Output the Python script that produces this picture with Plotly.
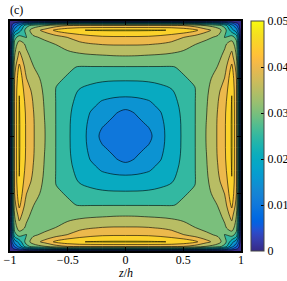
import numpy as np
import plotly.graph_objects as go

# quadrant coordinates (distance from duct centre, in units of h)
s = [0.0, 0.1, 0.2, 0.3, 0.4, 0.5, 0.6, 0.7, 0.8, 0.86, 0.92, 0.96, 0.98, 1.0]

# values for one quadrant (rows: y/h, cols: z/h)
q_row00 = [0.0125, 0.0128, 0.0135, 0.0185, 0.0222, 0.0257, 0.0298, 0.0352, 0.0405, 0.0445, 0.0505, 0.0410, 0.0255, 0.0]
q_row01 = [0.0128, 0.0136, 0.0155, 0.0188, 0.0224, 0.0257, 0.0298, 0.0351, 0.0405, 0.0445, 0.0505, 0.0410, 0.0255, 0.0]
q_row02 = [0.0135, 0.0155, 0.0185, 0.0197, 0.0228, 0.0259, 0.0298, 0.0348, 0.0403, 0.0443, 0.0504, 0.0410, 0.0255, 0.0]
q_row03 = [0.0185, 0.0188, 0.0197, 0.0215, 0.0236, 0.0264, 0.0298, 0.0345, 0.0398, 0.0435, 0.0502, 0.0410, 0.0255, 0.0]
q_row04 = [0.0222, 0.0224, 0.0228, 0.0236, 0.0248, 0.0272, 0.0298, 0.0340, 0.0390, 0.0420, 0.0498, 0.0408, 0.0255, 0.0]
q_row05 = [0.0257, 0.0257, 0.0259, 0.0264, 0.0272, 0.0297, 0.0305, 0.0333, 0.0373, 0.0402, 0.0485, 0.0400, 0.0245, 0.0]
q_row06 = [0.0298, 0.0298, 0.0298, 0.0298, 0.0298, 0.0305, 0.0310, 0.0325, 0.0352, 0.0380, 0.0462, 0.0380, 0.0240, 0.0]
q_row07 = [0.0352, 0.0351, 0.0348, 0.0345, 0.0340, 0.0333, 0.0325, 0.0320, 0.0335, 0.0362, 0.0415, 0.0348, 0.0220, 0.0]
q_row08 = [0.0405, 0.0405, 0.0403, 0.0398, 0.0390, 0.0373, 0.0352, 0.0335, 0.0325, 0.0342, 0.0375, 0.0320, 0.0200, 0.0]
q_row09 = [0.0445, 0.0445, 0.0443, 0.0435, 0.0420, 0.0402, 0.0380, 0.0362, 0.0342, 0.0295, 0.0320, 0.0280, 0.0170, 0.0]
q_row10 = [0.0505, 0.0505, 0.0504, 0.0502, 0.0498, 0.0485, 0.0462, 0.0415, 0.0375, 0.0320, 0.0220, 0.0170, 0.0110, 0.0]
q_row11 = [0.0410, 0.0410, 0.0410, 0.0410, 0.0408, 0.0400, 0.0380, 0.0348, 0.0320, 0.0280, 0.0170, 0.0110, 0.0060, 0.0]
q_row12 = [0.0255, 0.0255, 0.0255, 0.0255, 0.0255, 0.0245, 0.0240, 0.0220, 0.0200, 0.0170, 0.0110, 0.0060, 0.0040, 0.0]
q_row13 = [0.0, 0.0, 0.0, 0.0, 0.0, 0.0, 0.0, 0.0, 0.0, 0.0, 0.0, 0.0, 0.0, 0.0]

x_ticks = [-1, -0.5, 0, 0.5, 1]
cbar_ticks = [0, 0.01, 0.02, 0.03, 0.04, 0.05]
levels_start, levels_end, levels_step = 0.005, 0.05, 0.005

Q = np.array([q_row00, q_row01, q_row02, q_row03, q_row04, q_row05, q_row06,
              q_row07, q_row08, q_row09, q_row10, q_row11, q_row12, q_row13])
sa = np.array(s)
coords = np.concatenate([-sa[::-1][:-1], sa])
order = list(range(len(s) - 1, 0, -1)) + list(range(len(s)))
Z = Q[np.ix_(order, order)]

parula_rgb = [
    (0.2081, 0.1663, 0.5292), (0.2116, 0.1898, 0.5777), (0.2123, 0.2138, 0.6270), (0.2081, 0.2386, 0.6771),
    (0.1959, 0.2645, 0.7279), (0.1707, 0.2919, 0.7792), (0.1253, 0.3242, 0.8303), (0.0591, 0.3598, 0.8683),
    (0.0117, 0.3875, 0.8820), (0.0060, 0.4086, 0.8828), (0.0165, 0.4266, 0.8786), (0.0329, 0.4430, 0.8720),
    (0.0498, 0.4586, 0.8641), (0.0629, 0.4737, 0.8554), (0.0723, 0.4887, 0.8467), (0.0779, 0.5040, 0.8384),
    (0.0793, 0.5200, 0.8312), (0.0749, 0.5375, 0.8263), (0.0641, 0.5570, 0.8240), (0.0488, 0.5772, 0.8228),
    (0.0343, 0.5966, 0.8199), (0.0265, 0.6137, 0.8135), (0.0239, 0.6287, 0.8038), (0.0231, 0.6418, 0.7913),
    (0.0228, 0.6535, 0.7768), (0.0267, 0.6642, 0.7607), (0.0384, 0.6743, 0.7436), (0.0590, 0.6838, 0.7254),
    (0.0843, 0.6928, 0.7062), (0.1133, 0.7015, 0.6859), (0.1453, 0.7098, 0.6646), (0.1801, 0.7177, 0.6424),
    (0.2178, 0.7250, 0.6193), (0.2586, 0.7317, 0.5954), (0.3022, 0.7376, 0.5712), (0.3482, 0.7424, 0.5473),
    (0.3953, 0.7459, 0.5244), (0.4420, 0.7481, 0.5033), (0.4871, 0.7491, 0.4840), (0.5300, 0.7491, 0.4661),
    (0.5709, 0.7485, 0.4494), (0.6099, 0.7473, 0.4337), (0.6473, 0.7456, 0.4188), (0.6834, 0.7435, 0.4044),
    (0.7184, 0.7411, 0.3905), (0.7525, 0.7384, 0.3768), (0.7858, 0.7356, 0.3633), (0.8185, 0.7327, 0.3498),
    (0.8507, 0.7299, 0.3360), (0.8824, 0.7274, 0.3217), (0.9139, 0.7258, 0.3063), (0.9450, 0.7261, 0.2886),
    (0.9739, 0.7314, 0.2666), (0.9938, 0.7455, 0.2403), (0.9990, 0.7653, 0.2164), (0.9955, 0.7861, 0.1967),
    (0.9880, 0.8066, 0.1794), (0.9789, 0.8271, 0.1633), (0.9697, 0.8481, 0.1475), (0.9626, 0.8705, 0.1309),
    (0.9589, 0.8949, 0.1132), (0.9598, 0.9218, 0.0948), (0.9661, 0.9514, 0.0755), (0.9763, 0.9831, 0.0538),
]
n = len(parula_rgb)
parula = [[i / (n - 1), "rgb(%d,%d,%d)" % tuple(int(round(c * 255)) for c in rgb)]
          for i, rgb in enumerate(parula_rgb)]

FONT = "Liberation Serif, Times New Roman, serif"

fig = go.Figure()
fig.add_trace(go.Contour(
    x=coords, y=coords, z=Z,
    colorscale=parula,
    autocontour=False,
    contours=dict(start=levels_start, end=levels_end, size=levels_step, coloring="fill"),
    line=dict(color="black", width=0.6, smoothing=1.0),
    showscale=False,
    hoverinfo="skip",
))
fig.add_trace(go.Scatter(
    x=[None], y=[None], mode="markers", showlegend=False, hoverinfo="skip",
    marker=dict(color=[0], cmin=0, cmax=0.05, colorscale=parula, showscale=True,
                colorbar=dict(x=(250.7 - 10) / 231, xanchor="left", xpad=0, ypad=0,
                              y=0.5, yanchor="middle", len=1, lenmode="fraction",
                              thickness=12.5, thicknessmode="pixels",
                              outlinewidth=1, outlinecolor="#444",
                              tickvals=cbar_ticks, ticks="inside", ticklen=3,
                              tickcolor="black",
                              tickfont=dict(family=FONT, size=12, color="black"))),
))

axis_common = dict(range=[-1, 1], tickvals=x_ticks, ticks="inside", ticklen=4,
                   tickcolor="black", showline=True, linecolor="black", linewidth=1.6,
                   mirror="ticks", showgrid=False, zeroline=False, automargin=False,
                   tickfont=dict(family=FONT, size=12, color="black"))
fig.update_layout(
    template="none",
    width=287, height=281,
    margin=dict(l=10, r=46, t=21, b=30, autoexpand=False),
    paper_bgcolor="white", plot_bgcolor="white",
    font=dict(family=FONT, size=12, color="black"),
    xaxis=dict(**axis_common, ticklabelstandoff=-3),
    yaxis=dict(**axis_common, showticklabels=False),
    annotations=[
        dict(text="(c)", x=(16.5 - 10) / 231, y=1 + (21 - 10) / 230,
             xref="paper", yref="paper", xanchor="center", yanchor="middle",
             showarrow=False, font=dict(family=FONT, size=12, color="black")),
        dict(text="<i>z</i>/<i>h</i>", x=0.5, y=-(273 - 251) / 230,
             xref="paper", yref="paper", xanchor="center", yanchor="middle",
             showarrow=False, font=dict(family=FONT, size=12, color="black")),
    ],
)
fig.write_html("out.html", config={"displayModeBar": False},
               post_script="document.body.style.margin='0px';")
